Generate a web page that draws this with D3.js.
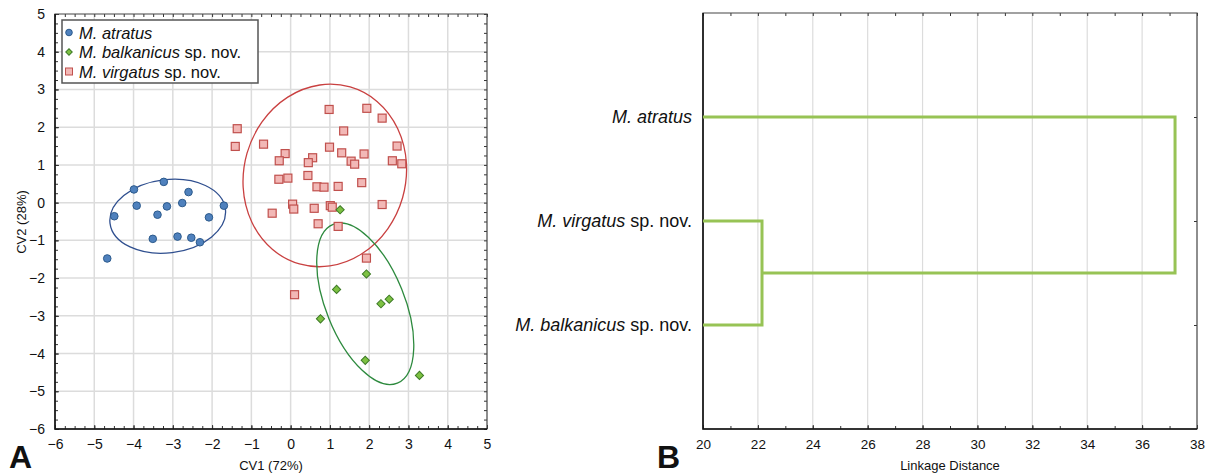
<!DOCTYPE html>
<html>
<head>
<meta charset="utf-8">
<script src="https://cdn.jsdelivr.net/npm/d3@7"></script>
<style>
  body { margin: 0; background: #fff; }
  text { font-family: "Liberation Sans", Arial, sans-serif; fill: #111; }
</style>
</head>
<body>
<svg id="chart" width="1216" height="474"></svg>
<script>
// --- panel A data (CV1, CV2 scores) ---
var atratusX = [-3.99,-3.23,-2.60,-3.92,-2.76,-3.15,-3.39,-4.49,-2.08,-1.70,-3.51,-2.88,-2.53,-2.31,-4.67]
var atratusY = [0.35,0.55,0.28,-0.08,-0.01,-0.10,-0.32,-0.36,-0.39,-0.08,-0.96,-0.90,-0.93,-1.05,-1.48]

var virgatusX = [-1.36,-1.41,-0.69,-0.14,-0.29,0.98,1.94,2.33,1.35,0.99,0.56,0.45,1.30,1.54,1.63,1.87,2.71,2.59,2.83,
                 -0.30,-0.07,0.44,0.67,0.85,1.21,1.81,-0.47,0.05,0.08,0.60,1.01,1.06,2.33,0.70,1.21,1.93,0.10]
var virgatusY = [1.96,1.49,1.55,1.30,1.11,2.47,2.50,2.24,1.90,1.47,1.19,1.06,1.32,1.10,1.02,1.29,1.50,1.11,1.03,
                 0.62,0.65,0.72,0.42,0.41,0.43,0.53,-0.28,-0.04,-0.17,-0.15,-0.08,-0.12,-0.05,-0.56,-0.63,-1.47,-2.44]

var balkanicusX = [1.26,1.93,1.17,2.30,2.51,0.76,1.90,3.28]
var balkanicusY = [-0.19,-1.89,-2.30,-2.68,-2.56,-3.08,-4.18,-4.58]

// confidence ellipses: centre, semi axes (data units), tilt (deg)
var ellipseNames = ["atratus", "virgatus", "balkanicus"]
var ellipseCX = [-3.13, 0.87, 1.90]
var ellipseCY = [-0.36, 0.72, -2.68]
var ellipseRX = [1.48, 2.06, 1.00]
var ellipseRY = [0.97, 2.44, 2.27]
var ellipseAngle = [-7, 16, -22]

var axisTicksA = [-6,-5,-4,-3,-2,-1,0,1,2,3,4,5]

// --- panel B data (dendrogram) ---
var leaves = ["M. atratus", "M. virgatus sp. nov.", "M. balkanicus sp. nov."]
var leafItalic = ["M. atratus", "M. virgatus", "M. balkanicus"]
// merges: [child a, child b, distance]; children >= 3 refer to earlier merges
var mergeA = [1, 0]
var mergeB = [2, 3]
var mergeDist = [22.15, 37.2]
var axisTicksB = [20,22,24,26,28,30,32,34,36,38]

var colors = {
  atratus: {fill: "#4f81bd", stroke: "#2c5a8c", ell: "#2f4f8f"},
  virgatus: {fill: "#f2b8b6", stroke: "#c0504d", ell: "#c94040"},
  balkanicus: {fill: "#7dc142", stroke: "#3d7a26", ell: "#2d8a3e"}
}

var svg = d3.select("#chart")

// ================= Panel A =================
var dimA = {left: 55, right: 487, top: 14, bottom: 429}
var xA = d3.scaleLinear().domain([-6,5]).range([dimA.left, dimA.right])
var yA = d3.scaleLinear().domain([-6,5]).range([dimA.bottom, dimA.top])

var gA = svg.append("g")

// grid
gA.append("g").selectAll("line").data(axisTicksA.slice(1,-1)).enter().append("line")
  .attr("x1", d => xA(d)).attr("x2", d => xA(d))
  .attr("y1", dimA.top).attr("y2", dimA.bottom)
  .attr("stroke", "#dcdcdc").attr("stroke-width", 1.5)
gA.append("g").selectAll("line").data(axisTicksA.slice(1,-1)).enter().append("line")
  .attr("y1", d => yA(d)).attr("y2", d => yA(d))
  .attr("x1", dimA.left).attr("x2", dimA.right)
  .attr("stroke", "#dcdcdc").attr("stroke-width", 1.5)

// axes, ticks inward
function styleAxis(g) {
  g.select(".domain").remove()
  g.selectAll(".tick line").attr("stroke", "#333")
  g.selectAll(".tick text").style("font-size", "14px").attr("fill", "#111")
}
var minorA = d3.range(-6, 5.01, 0.25)

gA.append("g").attr("transform", `translate(0,${dimA.bottom})`)
  .call(d3.axisBottom(xA).tickValues(minorA).tickSize(-3).tickFormat(""))
  .call(styleAxis)
gA.append("g").attr("transform", `translate(0,${dimA.bottom})`)
  .call(d3.axisBottom(xA).tickValues(axisTicksA).tickSize(-4).tickPadding(10).tickFormat(d3.format("d")))
  .call(styleAxis)
gA.append("g").attr("transform", `translate(0,${dimA.top})`)
  .call(d3.axisTop(xA).tickValues(minorA).tickSize(-3).tickFormat(""))
  .call(styleAxis)
gA.append("g").attr("transform", `translate(${dimA.left},0)`)
  .call(d3.axisLeft(yA).tickValues(minorA).tickSize(-3).tickFormat(""))
  .call(styleAxis)
gA.append("g").attr("transform", `translate(${dimA.left},0)`)
  .call(d3.axisLeft(yA).tickValues(axisTicksA).tickSize(-4).tickPadding(10).tickFormat(d3.format("d")))
  .call(styleAxis)
gA.append("g").attr("transform", `translate(${dimA.right},0)`)
  .call(d3.axisRight(yA).tickValues(minorA).tickSize(-3).tickFormat(""))
  .call(styleAxis)

// frame
gA.append("path")
  .attr("d", `M${dimA.left},${dimA.top}H${dimA.right}V${dimA.bottom}H${dimA.left}Z`)
  .attr("fill", "none").attr("stroke", "#444").attr("stroke-width", 1.2)
gA.append("path")
  .attr("d", `M${dimA.left},${dimA.top}V${dimA.bottom}H${dimA.right}`)
  .attr("fill", "none").attr("stroke", "#111").attr("stroke-width", 1.5)

// ellipses
var ellData = ellipseNames.map((n,i) => ({name: n, cx: ellipseCX[i], cy: ellipseCY[i], rx: ellipseRX[i], ry: ellipseRY[i], a: ellipseAngle[i]}))
gA.append("g").selectAll("ellipse").data(ellData).enter().append("ellipse")
  .attr("cx", d => xA(d.cx)).attr("cy", d => yA(d.cy))
  .attr("rx", d => xA(d.rx) - xA(0)).attr("ry", d => yA(0) - yA(d.ry))
  .attr("transform", d => `rotate(${d.a},${xA(d.cx)},${yA(d.cy)})`)
  .attr("fill", "none").attr("stroke", d => colors[d.name].ell).attr("stroke-width", 1.3)

// points
var atratus = atratusX.map((x,i) => ({x: x, y: atratusY[i]}))
var virgatus = virgatusX.map((x,i) => ({x: x, y: virgatusY[i]}))
var balkanicus = balkanicusX.map((x,i) => ({x: x, y: balkanicusY[i]}))

gA.append("g").selectAll("rect").data(virgatus).enter().append("rect")
  .attr("x", d => xA(d.x) - 4).attr("y", d => yA(d.y) - 4)
  .attr("width", 8).attr("height", 8)
  .attr("fill", colors.virgatus.fill).attr("stroke", colors.virgatus.stroke).attr("stroke-width", 1.2)

// diamonds = squares turned 45deg
gA.append("g").selectAll("rect").data(balkanicus).enter().append("rect")
  .attr("x", -2.9).attr("y", -2.9).attr("width", 5.8).attr("height", 5.8)
  .attr("transform", d => `translate(${xA(d.x)},${yA(d.y)}) rotate(45)`)
  .attr("fill", colors.balkanicus.fill).attr("stroke", colors.balkanicus.stroke).attr("stroke-width", 1)

gA.append("g").selectAll("circle").data(atratus).enter().append("circle")
  .attr("cx", d => xA(d.x)).attr("cy", d => yA(d.y)).attr("r", 3.8)
  .attr("fill", colors.atratus.fill).attr("stroke", colors.atratus.stroke).attr("stroke-width", 1)

// legend
var legend = gA.append("g")
legend.append("rect").attr("x", 62).attr("y", 20).attr("width", 196).attr("height", 63)
  .attr("fill", "#fff").attr("stroke", "#555").attr("stroke-width", 1.5)
var legItems = [
  {name: "atratus", it: "M. atratus", rest: ""},
  {name: "balkanicus", it: "M. balkanicus", rest: " sp. nov."},
  {name: "virgatus", it: "M. virgatus", rest: " sp. nov."}
]
legItems.forEach(function(d, i) {
  var cy = 32.5 + i * 19.5
  if (d.name == "atratus") {
    legend.append("circle").attr("cx", 69).attr("cy", cy).attr("r", 3.3)
      .attr("fill", colors.atratus.fill).attr("stroke", colors.atratus.stroke)
  } else if (d.name == "balkanicus") {
    legend.append("rect").attr("x", -2.3).attr("y", -2.3).attr("width", 4.6).attr("height", 4.6)
      .attr("transform", `translate(69,${cy}) rotate(45)`)
      .attr("fill", colors.balkanicus.fill).attr("stroke", colors.balkanicus.stroke)
  } else {
    legend.append("rect").attr("x", 65.5).attr("y", cy - 3.5).attr("width", 7).attr("height", 7)
      .attr("fill", colors.virgatus.fill).attr("stroke", colors.virgatus.stroke)
  }
  var t = legend.append("text").attr("x", 79).attr("y", cy + 6).style("font-size", "16.5px")
  t.append("tspan").style("font-style", "italic").text(d.it)
  t.append("tspan").text(d.rest)
})

// titles
gA.append("text").attr("x", 271).attr("y", 470).attr("text-anchor", "middle")
  .style("font-size", "13px").text("CV1 (72%)")
gA.append("text").attr("transform", "translate(26,222) rotate(-90)").attr("text-anchor", "middle")
  .style("font-size", "13px").text("CV2 (28%)")
gA.append("text").attr("x", 9).attr("y", 468).style("font-size", "32px").style("font-weight", "bold").text("A")

// ================= Panel B =================
var dimB = {left: 703, right: 1197, top: 13, bottom: 429}
var xB = d3.scaleLinear().domain([20,38]).range([dimB.left, dimB.right])
var yB = d3.scaleLinear().domain([0,4]).range([dimB.top, dimB.bottom])
var gB = svg.append("g")

gB.append("g").selectAll("line").data(axisTicksB.slice(1,-1)).enter().append("line")
  .attr("x1", d => xB(d)).attr("x2", d => xB(d))
  .attr("y1", dimB.top).attr("y2", dimB.bottom)
  .attr("stroke", "#dcdcdc").attr("stroke-width", 1.2)

var minorB = d3.range(20, 38.01, 1)
gB.append("g").attr("transform", `translate(0,${dimB.bottom})`)
  .call(d3.axisBottom(xB).tickValues(minorB).tickSize(-3).tickFormat(""))
  .call(styleAxis)
gB.append("g").attr("transform", `translate(0,${dimB.bottom})`)
  .call(d3.axisBottom(xB).tickValues(axisTicksB).tickSize(-4).tickPadding(10).tickFormat(d3.format("d")))
  .call(styleAxis)
  .selectAll(".tick text").style("font-size", "13.5px")
gB.append("g").attr("transform", `translate(0,${dimB.top})`)
  .call(d3.axisTop(xB).tickValues(minorB).tickSize(-3).tickFormat(""))
  .call(styleAxis)
gB.append("g").attr("transform", `translate(${dimB.left},0)`)
  .call(d3.axisLeft(yB).tickValues([1,2,3]).tickSize(-3).tickFormat(""))
  .call(styleAxis)
gB.append("g").attr("transform", `translate(${dimB.right},0)`)
  .call(d3.axisRight(yB).tickValues([1,2,3]).tickSize(-3).tickFormat(""))
  .call(styleAxis)

gB.append("path")
  .attr("d", `M${dimB.left},${dimB.top}H${dimB.right}V${dimB.bottom}H${dimB.left}Z`)
  .attr("fill", "none").attr("stroke", "#444").attr("stroke-width", 1.2)
gB.append("path")
  .attr("d", `M${dimB.left},${dimB.top}V${dimB.bottom}H${dimB.right}`)
  .attr("fill", "none").attr("stroke", "#111").attr("stroke-width", 1.5)

// dendrogram: node i < 3 is leaf at row i+1, node 3+k is merge k
var nodeX = [20, 20, 20], nodeY = [1, 2, 3]
var links = []
mergeDist.forEach(function(dist, k) {
  var a = mergeA[k], b = mergeB[k]
  links.push([[nodeX[a], nodeY[a]], [dist, nodeY[a]], [dist, nodeY[b]], [nodeX[b], nodeY[b]]])
  nodeX.push(dist)
  nodeY.push((nodeY[a] + nodeY[b]) / 2)
})
var line = d3.line().x(d => xB(d[0])).y(d => yB(d[1]))
gB.append("g").selectAll("path").data(links).enter().append("path")
  .attr("d", line).attr("fill", "none")
  .attr("stroke", "#97c355").attr("stroke-width", 3).attr("stroke-linejoin", "miter")

// leaf labels
leaves.forEach(function(name, i) {
  var t = gB.append("text").attr("x", 692).attr("y", yB(i + 1) + 6)
    .attr("text-anchor", "end").style("font-size", "18px")
  t.append("tspan").style("font-style", "italic").text(leafItalic[i])
  t.append("tspan").text(name.slice(leafItalic[i].length))
})

gB.append("text").attr("x", 950).attr("y", 470).attr("text-anchor", "middle")
  .style("font-size", "13px").text("Linkage Distance")
gB.append("text").attr("x", 657).attr("y", 468).style("font-size", "32px").style("font-weight", "bold").text("B")
</script>
</body>
</html>
